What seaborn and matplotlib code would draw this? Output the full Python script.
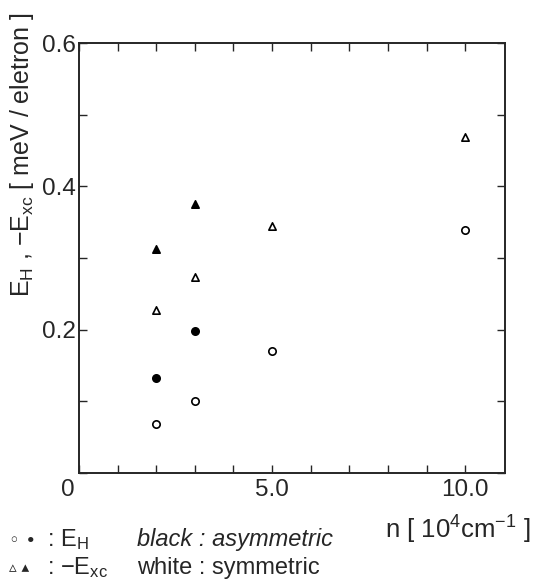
import matplotlib
matplotlib.use("Agg")
import matplotlib.pyplot as plt
import seaborn as sns
import pandas as pd

# values
n_sym = [2, 3, 5, 10]
eh_sym = [0.068, 0.101, 0.170, 0.339]
exc_sym = [0.228, 0.274, 0.345, 0.469]
n_asym = [2, 3]
eh_asym = [0.133, 0.198]
exc_asym = [0.3125, 0.375]

x_ticks = list(range(0, 11))
x_labels = ["", "", "", "", "", "5.0", "", "", "", "", "10.0"]
y_ticks = [0.0, 0.1, 0.2, 0.3, 0.4, 0.5, 0.6]
y_labels = ["", "", "0.2", "", "0.4", "", "0.6"]

sns.set_style("ticks")
plt.rcParams["font.family"] = ["Liberation Sans", "DejaVu Sans"]
plt.rcParams["mathtext.fontset"] = "custom"
plt.rcParams["mathtext.rm"] = "Liberation Sans"
plt.rcParams["mathtext.it"] = "Liberation Sans:italic"

W, H = 534, 585
fig = plt.figure(figsize=(W / 100, H / 100), dpi=100)
ax = fig.add_axes([79 / W, 1 - 473 / H, 426 / W, 430 / H])

sym = pd.DataFrame({"n": n_sym, "eh": eh_sym, "exc": exc_sym})
asym = pd.DataFrame({"n": n_asym, "eh": eh_asym, "exc": exc_asym})

kw = dict(s=28, linewidth=1.2, edgecolor="black", ax=ax, legend=False, zorder=3)
sns.scatterplot(data=sym, x="n", y="eh", marker="o", facecolor="white", **kw)
sns.scatterplot(data=asym, x="n", y="eh", marker="o", color="black", **kw)
sns.scatterplot(data=sym, x="n", y="exc", marker="^", facecolor="white", **kw)
sns.scatterplot(data=asym, x="n", y="exc", marker="^", color="black", **kw)

ax.set_xlim(0, 11.03)
ax.set_ylim(0, 0.6)
ax.set_xticks(x_ticks)
ax.set_xticklabels(x_labels, fontsize=17.5)
ax.set_yticks(y_ticks)
ax.set_yticklabels(y_labels, fontsize=17.5)
ax.tick_params(direction="in", length=6, width=1, top=True, right=True, pad=4)
ax.tick_params(axis="y", pad=2)
for sp in ax.spines.values():
    sp.set_linewidth(1.4)
ax.set_xlabel("")
ax.set_ylabel("")

# shared origin label
ax.annotate("0", xy=(0, 0), xytext=(-8, -4), textcoords="offset points",
            ha="center", va="top", fontsize=17.5)

fig.text(22 / W, 1 - 155 / H,
         r"E$_\mathrm{H}$ , $-$E$_\mathrm{xc}$ [ meV / eletron ]",
         rotation=90, ha="center", va="center", fontsize=18)
fig.text(385 / W, 1 - 539 / H, r"n [ 10$^\mathrm{4}$cm$^{-1}$ ]",
         ha="left", va="baseline", fontsize=18.5)

# key below the axes
fig.text(9 / W, 1 - 546 / H, "\u25e6 \u2022", family="DejaVu Sans",
         ha="left", va="baseline", fontsize=13)
fig.text(47 / W, 1 - 546 / H, ": E$_\\mathrm{H}$",
         ha="left", va="baseline", fontsize=17)
fig.text(137 / W, 1 - 546 / H, "black : asymmetric",
         ha="left", va="baseline", fontsize=17, style="italic")
fig.text(9 / W, 1 - 572 / H, "\u25b5 \u25b4", family="DejaVu Sans",
         ha="left", va="baseline", fontsize=11)
fig.text(47 / W, 1 - 574 / H, ": $-$E$_\\mathrm{xc}$",
         ha="left", va="baseline", fontsize=17)
fig.text(137 / W, 1 - 574 / H, "white : symmetric",
         ha="left", va="baseline", fontsize=17)

fig.savefig("out.png", dpi=100)
